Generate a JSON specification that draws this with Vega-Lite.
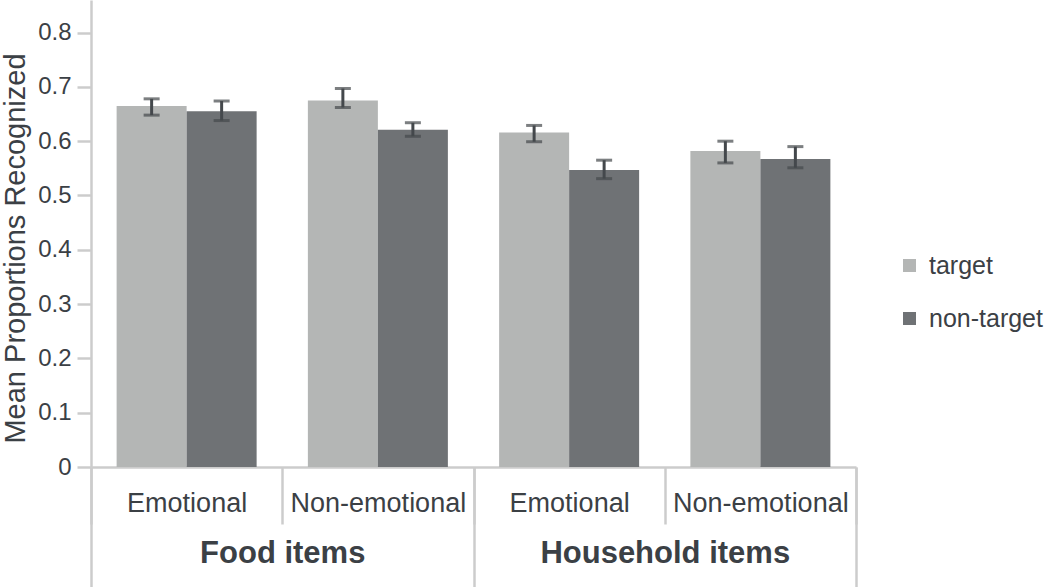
{
  "$schema": "https://vega.github.io/schema/vega-lite/v6.json",
  "autosize": {"type": "none"},
  "width": 765,
  "height": 467,
  "padding": {"left": 91, "top": 0, "right": 194, "bottom": 120},
  "background": "white",
  "config": {
    "view": {"stroke": null},
    "font": "Liberation Sans",
    "axis": {"labelColor": "#3b4045", "titleColor": "#3b4045", "domainColor": "#cccccc", "tickColor": "#cccccc", "grid": false}
  },
  "data": {
    "values": [
      {"group": "Food items", "key": "Food items|Emotional", "type": "target", "mean": 0.665, "lo": 0.648, "hi": 0.678},
      {"group": "Food items", "key": "Food items|Emotional", "type": "non-target", "mean": 0.655, "lo": 0.638, "hi": 0.674},
      {"group": "Food items", "key": "Food items|Non-emotional", "type": "target", "mean": 0.675, "lo": 0.662, "hi": 0.697},
      {"group": "Food items", "key": "Food items|Non-emotional", "type": "non-target", "mean": 0.621, "lo": 0.609, "hi": 0.634},
      {"group": "Household items", "key": "Household items|Emotional", "type": "target", "mean": 0.616, "lo": 0.599, "hi": 0.629},
      {"group": "Household items", "key": "Household items|Emotional", "type": "non-target", "mean": 0.547, "lo": 0.531, "hi": 0.565},
      {"group": "Household items", "key": "Household items|Non-emotional", "type": "target", "mean": 0.582, "lo": 0.560, "hi": 0.600},
      {"group": "Household items", "key": "Household items|Non-emotional", "type": "non-target", "mean": 0.567, "lo": 0.551, "hi": 0.590}
    ]
  },
  "layer": [
    {
      "encoding": {
        "x": {
          "field": "key", "type": "nominal", "sort": null,
          "scale": {"paddingInner": 0, "paddingOuter": 0},
          "axis": {
            "orient": "bottom", "title": null, "labelAngle": 0,
            "labelExpr": "split(datum.value, '|')[1]",
            "labelFontSize": 27, "labelBaseline": "alphabetic", "labelPadding": -13, "labelLimit": 0,
            "labelOverlap": false, "labelFlush": false, "labelBound": false,
            "tickBand": "extent", "tickSize": 57, "tickWidth": 2.5,
            "domainWidth": 2.5
          }
        },
        "xOffset": {
          "field": "type", "type": "nominal", "sort": ["target", "non-target"],
          "scale": {"paddingInner": 0, "paddingOuter": 0.366}
        },
        "y": {
          "field": "mean", "type": "quantitative",
          "scale": {"domain": [0, 0.86], "nice": false},
          "axis": {
            "title": "Mean Proportions Recognized", "titleFontSize": 29, "titleFontWeight": "normal",
            "titleX": -61, "titleY": 248,
            "values": [0, 0.1, 0.2, 0.3, 0.4, 0.5, 0.6, 0.7, 0.8], "format": ".1~f",
            "labelFontSize": 24, "labelPadding": 6, "tickSize": 14, "tickWidth": 2.5,
            "domainWidth": 2.5
          }
        }
      },
      "layer": [
        {
          "mark": {"type": "bar"},
          "encoding": {
            "color": {
              "field": "type", "type": "nominal", "sort": ["target", "non-target"],
              "scale": {"domain": ["target", "non-target"], "range": ["#b4b6b5", "#6f7275"]},
              "legend": {
                "title": null, "orient": "none", "legendX": 806, "legendY": 253, "padding": 0,
                "symbolType": "square", "symbolSize": 169, "symbolStrokeWidth": 0,
                "labelFontSize": 25, "labelColor": "#3b4045", "labelOffset": 7, "rowPadding": 27, "labelLimit": 300
              }
            }
          }
        },
        {
          "mark": {"type": "rule", "color": "#44484c", "strokeWidth": 3},
          "encoding": {"y": {"field": "lo", "type": "quantitative"}, "y2": {"field": "hi"}}
        },
        {
          "mark": {"type": "tick", "color": "#44484c", "thickness": 3, "size": 16, "orient": "horizontal"},
          "encoding": {"y": {"field": "lo", "type": "quantitative"}}
        },
        {
          "mark": {"type": "tick", "color": "#44484c", "thickness": 3, "size": 16, "orient": "horizontal"},
          "encoding": {"y": {"field": "hi", "type": "quantitative"}}
        }
      ]
    },
    {
      "mark": {"type": "bar", "opacity": 0},
      "encoding": {
        "x": {
          "field": "group", "type": "nominal", "sort": null,
          "scale": {"paddingInner": 0, "paddingOuter": 0},
          "axis": {
            "orient": "bottom", "title": null, "labelAngle": 0, "domain": false,
            "labelFontSize": 31, "labelFontWeight": "bold", "labelBaseline": "alphabetic", "labelPadding": -25, "labelLimit": 0,
            "labelOverlap": false, "labelFlush": false, "labelBound": false,
            "tickBand": "extent", "tickSize": 120, "tickWidth": 2.5
          }
        },
        "y": {"field": "mean", "type": "quantitative"}
      }
    }
  ],
  "resolve": {"scale": {"x": "independent"}, "axis": {"x": "independent"}}
}
